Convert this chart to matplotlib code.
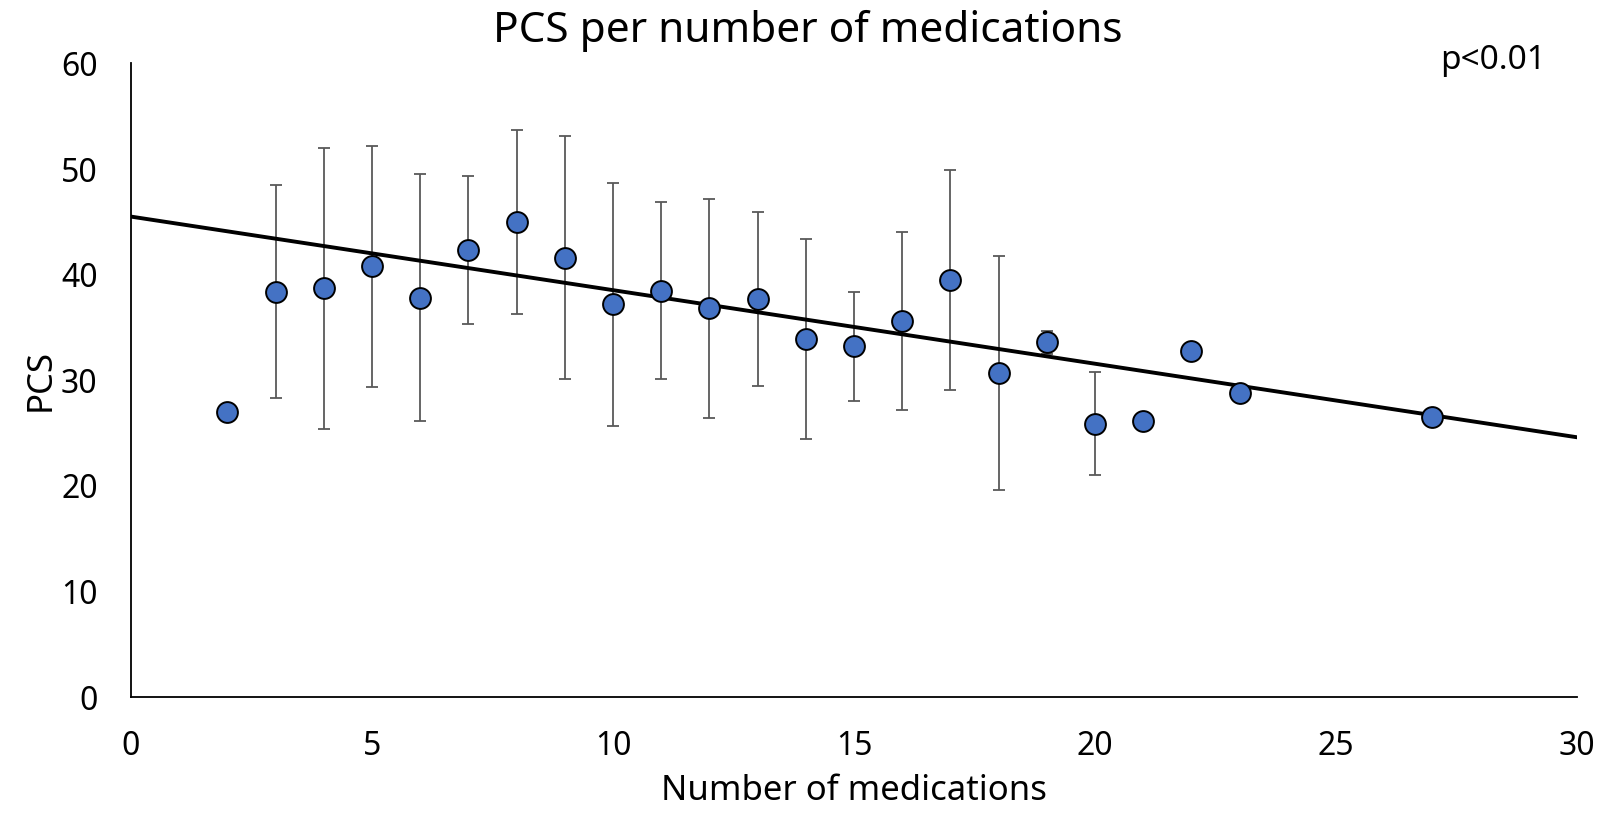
import numpy as np
import matplotlib
matplotlib.use("Agg")
import matplotlib.pyplot as plt

# data
n_meds = [2, 3, 4, 5, 6, 7, 8, 9, 10, 11, 12, 13, 14, 15, 16, 17, 18, 19, 20, 21, 22, 23, 27]
pcs = [27.0, 38.4, 38.7, 40.8, 37.8, 42.3, 45.0, 41.6, 37.2, 38.5, 36.8, 37.7,
       33.9, 33.2, 35.6, 39.5, 30.7, 33.6, 25.9, 26.1, 32.8, 28.8, 26.5]
pcs_err = [0, 10.1, 13.3, 11.4, 11.7, 7.0, 8.7, 11.5, 11.5, 8.4, 10.4, 8.2,
           9.5, 5.2, 8.4, 10.4, 11.1, 1.1, 4.85, 0, 0, 0, 0]

# linear trendline as drawn
trend_x = [0, 30]
trend_y = [45.5, 24.6]

plt.rcParams['font.family'] = ['Noto Sans', 'DejaVu Sans']

fig = plt.figure(figsize=(16.03, 8.14), dpi=100)
ax = fig.add_axes([0.0817, 0.1437, 0.9021, 0.7783])

ax.errorbar(n_meds, pcs, yerr=pcs_err, fmt='none', ecolor='#595959',
            elinewidth=1.3, capsize=4, capthick=1.3, zorder=2)
ax.plot(trend_x, trend_y, color='black', lw=2.8, zorder=3)
ax.plot(n_meds, pcs, 'o', ms=15, mfc='#4472C4', mec='black', mew=1.4,
        ls='none', zorder=4)

ax.set_xlim(0, 30)
ax.set_ylim(0, 60)
ax.set_xticks(range(0, 31, 5))
ax.set_yticks(range(0, 61, 10))
ax.tick_params(length=0, labelsize=23)
ax.tick_params(axis='x', pad=24)
ax.tick_params(axis='y', pad=24)

for s in ['top', 'right']:
    ax.spines[s].set_visible(False)
for s in ['left', 'bottom']:
    ax.spines[s].set_linewidth(1.3)
    ax.spines[s].set_color('black')

ax.set_xlabel("Number of medications", fontsize=25, labelpad=8)
ax.set_ylabel("PCS", fontsize=25, labelpad=2)

fig.text(0.504, 0.962, "PCS per number of medications", fontsize=30.5,
         ha='center', va='center')
ax.text(0.942, 1.004, "p<0.01", transform=ax.transAxes, fontsize=24,
        ha='center', va='center')

fig.savefig("out.png", dpi=100)
